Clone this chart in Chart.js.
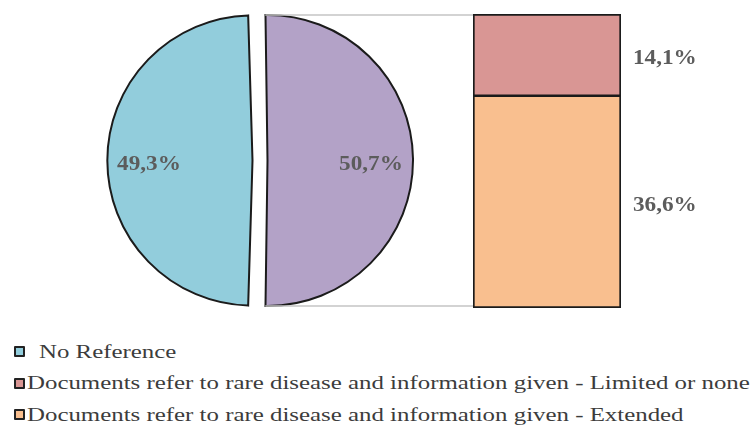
<!DOCTYPE html>
<html>
<head>
<meta charset="utf-8">
<script src="https://cdn.jsdelivr.net/npm/chart.js@4.4.1/dist/chart.umd.min.js"></script>
<style>
  html, body { margin: 0; padding: 0; background: #fff; }
  body { width: 751px; height: 442px; position: relative; overflow: hidden;
         font-family: "Liberation Serif", "Times New Roman", serif; }
  #pieBox { position: absolute; left: 0; top: 0; width: 520px; height: 321px; }
  #barBox { position: absolute; left: 473px; top: 14px; width: 278px; height: 294px; }
  #legend { position: absolute; left: 0; top: 336px; width: 751px; }
  .item { position: relative; height: 31.5px; display: flex; align-items: center;
          padding-left: 14px; white-space: nowrap; }
  .sw { width: 7px; height: 7px; border: 2px solid #222; border-radius: 1px; flex: none; }
  .txt { color: #3c3c3c; font-size: 19.5px; transform-origin: 0 50%; display: inline-block; margin-left: 2px; }
</style>
</head>
<body>
<div id="pieBox"><canvas id="pie"></canvas></div>
<div id="barBox"><canvas id="bar"></canvas></div>
<div id="legend"></div>
<script>
// Share of documents by whether they refer to the rare disease (pie)
const pieCategories = ['No Reference', 'Documents refer to rare disease'];
const pieValues = [49.3, 50.7];
const pieColors = ['#92CDDC', '#B3A2C7'];

// Breakdown of the documents that refer to the disease (stacked bar)
const barCategories = [
  'Documents refer to rare disease and information given - Limited or none',
  'Documents refer to rare disease and information given - Extended'
];
const barValues = [14.1, 36.6];
const barColors = ['#D99694', '#F9BF8F'];

const legendLabels = [pieCategories[0], barCategories[0], barCategories[1]];
const legendColors = [pieColors[0], barColors[0], barColors[1]];

const edge = '#1b1b1b';
const labelColor = '#5c5c5c';
const labelFont = 'bold 20px "Liberation Serif", "Times New Roman", serif';
const textStretch = 1.16;
const fmt = v => v.toFixed(1).replace('.', ',') + '%';

function stretchedText(ctx, text, x, y, align) {
  ctx.save();
  ctx.font = labelFont;
  ctx.fillStyle = labelColor;
  ctx.textBaseline = 'middle';
  const w = ctx.measureText(text).width * textStretch;
  let left = x;
  if (align === 'center') left = x - w / 2;
  ctx.translate(left, y);
  ctx.scale(textStretch, 1);
  ctx.textAlign = 'left';
  ctx.fillText(text, 0, 0);
  ctx.restore();
}

// ---- stacked bar ----
const barTotal = barValues.reduce((a, b) => a + b, 0);
const barDatasets = [];
for (let i = barValues.length - 1; i >= 0; i--) {
  const isTop = i === 0;
  barDatasets.push({
    label: barCategories[i],
    data: [barValues[i]],
    backgroundColor: barColors[i],
    borderColor: edge,
    borderWidth: isTop ? { top: 2, left: 2, right: 2, bottom: 1.5 }
                       : { top: 1.5, left: 2, right: 2, bottom: 2 },
    borderSkipped: false,
    barPercentage: 1,
    categoryPercentage: 1
  });
}

const barLabels = {
  id: 'barLabels',
  afterDatasetsDraw(chart) {
    const ctx = chart.ctx;
    chart.data.datasets.forEach((ds, di) => {
      chart.getDatasetMeta(di).data.forEach((el, j) => {
        const p = el.getProps(['x', 'y', 'base', 'width'], true);
        stretchedText(ctx, fmt(ds.data[j]), p.x + p.width / 2 + 12, (p.y + p.base) / 2 + 4, 'left');
      });
    });
  }
};

const barChart = new Chart(document.getElementById('bar'), {
  type: 'bar',
  data: { labels: [pieCategories[1]], datasets: barDatasets },
  options: {
    responsive: true,
    maintainAspectRatio: false,
    animation: false,
    layout: { padding: { left: 0, top: 0, bottom: 0, right: 130 } },
    plugins: { legend: { display: false }, tooltip: { enabled: false } },
    scales: {
      x: { stacked: true, display: false },
      y: { stacked: true, display: false, min: 0, max: barTotal }
    }
  },
  plugins: [barLabels]
});

// ---- pie ----
const pieTotal = pieValues.reduce((a, b) => a + b, 0);
// turn the pie so that the second slice is centred on the right-hand side
const secondSweep = pieValues[1] / pieTotal * 360;
const pieRotation = 180 + (secondSweep - 180) / 2;
const sliceOffset = 30;

const pieExtras = {
  id: 'pieExtras',
  afterDraw(chart) {
    const ctx = chart.ctx;
    const meta = chart.getDatasetMeta(0);
    const shift = sliceOffset / 4;
    meta.data.forEach((arc, i) => {
      const p = arc.getProps(['x', 'y', 'startAngle', 'endAngle', 'outerRadius'], true);
      const mid = (p.startAngle + p.endAngle) / 2;
      const cx = p.x + Math.cos(mid) * shift;
      const cy = p.y + Math.sin(mid) * shift;
      const r = p.outerRadius * 0.75;
      stretchedText(ctx, fmt(pieValues[i]), cx + Math.cos(mid) * r, cy + Math.sin(mid) * r + 4, 'center');
    });

    // connector lines from the right slice to the bar
    const arc = meta.data[1];
    const p = arc.getProps(['x', 'y', 'startAngle', 'endAngle', 'outerRadius'], true);
    const mid = (p.startAngle + p.endAngle) / 2;
    const sweep = p.endAngle - p.startAngle;
    const fix = 1 - Math.sin(Math.min(Math.PI, sweep));
    const rr = p.outerRadius + shift * fix;
    const cx = p.x + Math.cos(mid) * shift;
    const cy = p.y + Math.sin(mid) * shift;
    const barEl = barChart.getDatasetMeta(0).data[0];
    const bp = barEl.getProps(['x', 'width'], true);
    const pieRect = chart.canvas.getBoundingClientRect();
    const barRect = barChart.canvas.getBoundingClientRect();
    const barLeft = bp.x - bp.width / 2 + barRect.left - pieRect.left;
    ctx.save();
    ctx.strokeStyle = '#C4C4C4';
    ctx.lineWidth = 1.5;
    [p.startAngle, p.endAngle].forEach(a => {
      const sx = cx + Math.cos(a) * rr;
      const sy = cy + Math.sin(a) * rr;
      ctx.beginPath();
      ctx.moveTo(sx + 1, sy);
      ctx.lineTo(barLeft, sy);
      ctx.stroke();
    });
    ctx.restore();
  }
};

new Chart(document.getElementById('pie'), {
  type: 'pie',
  data: {
    labels: pieCategories,
    datasets: [{
      data: pieValues,
      backgroundColor: pieColors,
      borderColor: edge,
      borderWidth: 2,
      borderJoinStyle: 'miter',
      offset: sliceOffset
    }]
  },
  options: {
    responsive: true,
    maintainAspectRatio: false,
    animation: false,
    rotation: pieRotation,
    radius: 138,
    layout: { padding: 0 },
    plugins: { legend: { display: false }, tooltip: { enabled: false } }
  },
  plugins: [pieExtras]
});

// ---- legend ----
const legend = document.getElementById('legend');
legendLabels.forEach((label, i) => {
  const row = document.createElement('div');
  row.className = 'item';
  const sw = document.createElement('span');
  sw.className = 'sw';
  sw.style.background = legendColors[i];
  const t = document.createElement('span');
  t.className = 'txt';
  t.textContent = label;
  if (i === 0) t.style.marginLeft = '14px';
  row.appendChild(sw);
  row.appendChild(t);
  legend.appendChild(row);
});
// widen the legend type so the longest entry reaches the right edge
const txts = Array.from(legend.querySelectorAll('.txt'));
const longest = txts[1];
const avail = 751 - 1 - longest.getBoundingClientRect().left;
const sx = avail / longest.getBoundingClientRect().width;
txts.forEach(t => { t.style.transform = 'scaleX(' + sx.toFixed(3) + ')'; });
</script>
</body>
</html>
